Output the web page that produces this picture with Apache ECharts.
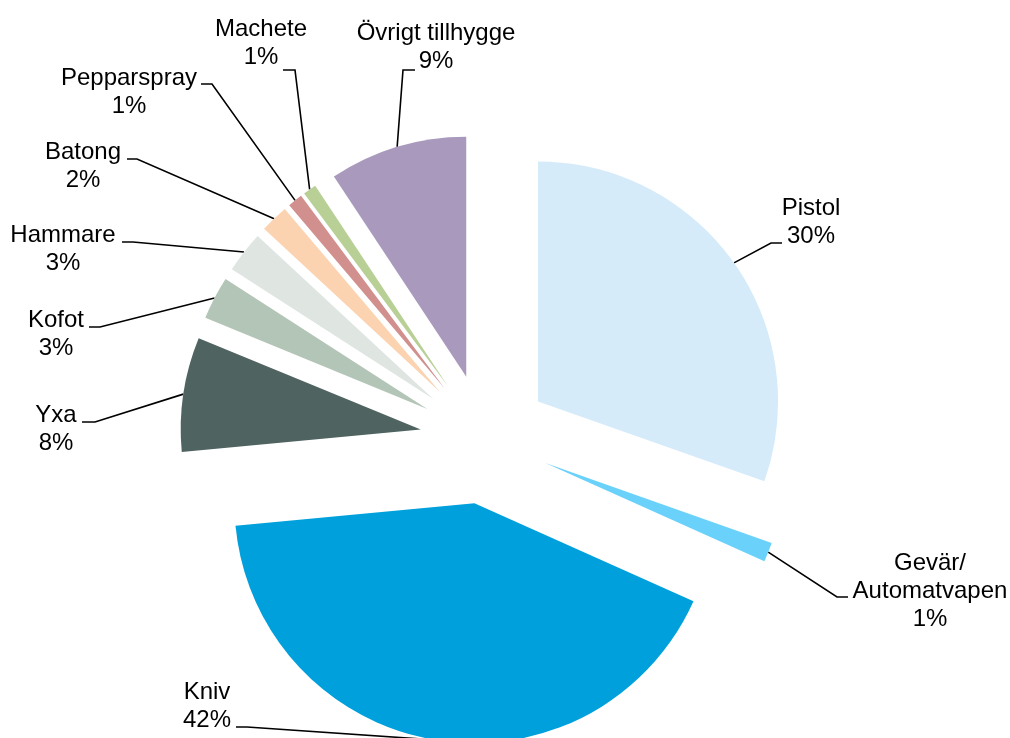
<!DOCTYPE html>
<html>
<head>
<meta charset="utf-8">
<title>Tillhygge</title>
<script src="https://cdn.jsdelivr.net/npm/echarts@6.0.0/dist/echarts.min.js"></script>
<style>
  html, body { margin: 0; padding: 0; background: #fff; }
  #chart { width: 1010px; height: 738px; }
</style>
</head>
<body>
<div id="chart"></div>
<script>
// andel per tillhygge (%), läst ur bilden, medurs från klockan 12
const categories = ['Pistol', 'Gevär/\nAutomatvapen', 'Kniv', 'Yxa', 'Kofot', 'Hammare', 'Batong', 'Pepparspray', 'Machete', 'Övrigt tillhygge']
const shares = [30.4, 1.3, 41.8, 7.7, 2.9, 2.8, 1.9, 1.0, 0.9, 9.3]
const colors = ['#D5EBF9', '#6AD1FA', '#00A0DC', '#4F6460', '#B3C5B7', '#DFE6E2', '#FBD3B1', '#D18F8E', '#B8CF96', '#A99ABD']

// etikettplacering (textblockets mitt) och ledarlinjens ände [x, y, knäX]
const labelPos = [[811, 222], [930, 591], [207, 706], [56, 429], [56, 334], [63, 249], [83, 166], [129, 92], [261, 43], [436, 47]]
const leaderEnd = [[782, 243, 771], [848, 597, 837], [236, 727, 247], [82, 422, 95], [89, 327, 100], [122, 242, 133], [127, 159, 137], [201, 84, 212], [283, 70, 295], [415, 70, 403]]

const pieCenter = [485, 439]
const pieRadius = 240
const explode = 65

const chart = echarts.init(document.getElementById('chart'))

const option = {
  animation: false,
  series: [
    {
      // utskjutna tårtbitar
      type: 'pie',
      center: pieCenter,
      radius: pieRadius,
      startAngle: 90,
      clockwise: true,
      selectedMode: 'multiple',
      selectedOffset: explode,
      avoidLabelOverlap: false,
      silent: true,
      emphasis: { disabled: true },
      select: { itemStyle: { borderWidth: 0 } },
      itemStyle: { borderWidth: 0 },
      label: { show: false },
      labelLine: { show: false },
      data: categories.map((name, i) => ({
        name,
        value: shares[i],
        selected: true,
        itemStyle: { color: colors[i] }
      }))
    },
    {
      // osynlig ring i de utskjutna bitarnas ytterkant, bär etiketter och ledarlinjer
      type: 'pie',
      center: pieCenter,
      radius: pieRadius + explode,
      startAngle: 90,
      clockwise: true,
      avoidLabelOverlap: false,
      silent: true,
      emphasis: { disabled: true },
      itemStyle: { color: 'rgba(0,0,0,0)', borderWidth: 0 },
      label: {
        show: true,
        position: 'outside',
        color: '#000',
        fontFamily: 'Liberation Sans, Arial, sans-serif',
        fontSize: 24,
        lineHeight: 28,
        align: 'center',
        formatter: p => p.name + '\n' + Math.round(p.percent) + '%'
      },
      labelLine: {
        show: true,
        smooth: false,
        lineStyle: { color: '#000', width: 1.6 }
      },
      labelLayout: params => {
        const i = params.dataIndex
        const [ax, ay, kx] = leaderEnd[i]
        const start = params.labelLinePoints ? params.labelLinePoints[0] : [kx, ay]
        return {
          x: labelPos[i][0],
          y: labelPos[i][1],
          align: 'center',
          verticalAlign: 'middle',
          labelLinePoints: [start, [kx, ay], [ax, ay]]
        }
      },
      data: categories.map((name, i) => ({ name, value: shares[i] }))
    }
  ]
}

chart.setOption(option)
window.addEventListener('resize', () => chart.resize())
</script>
</body>
</html>
